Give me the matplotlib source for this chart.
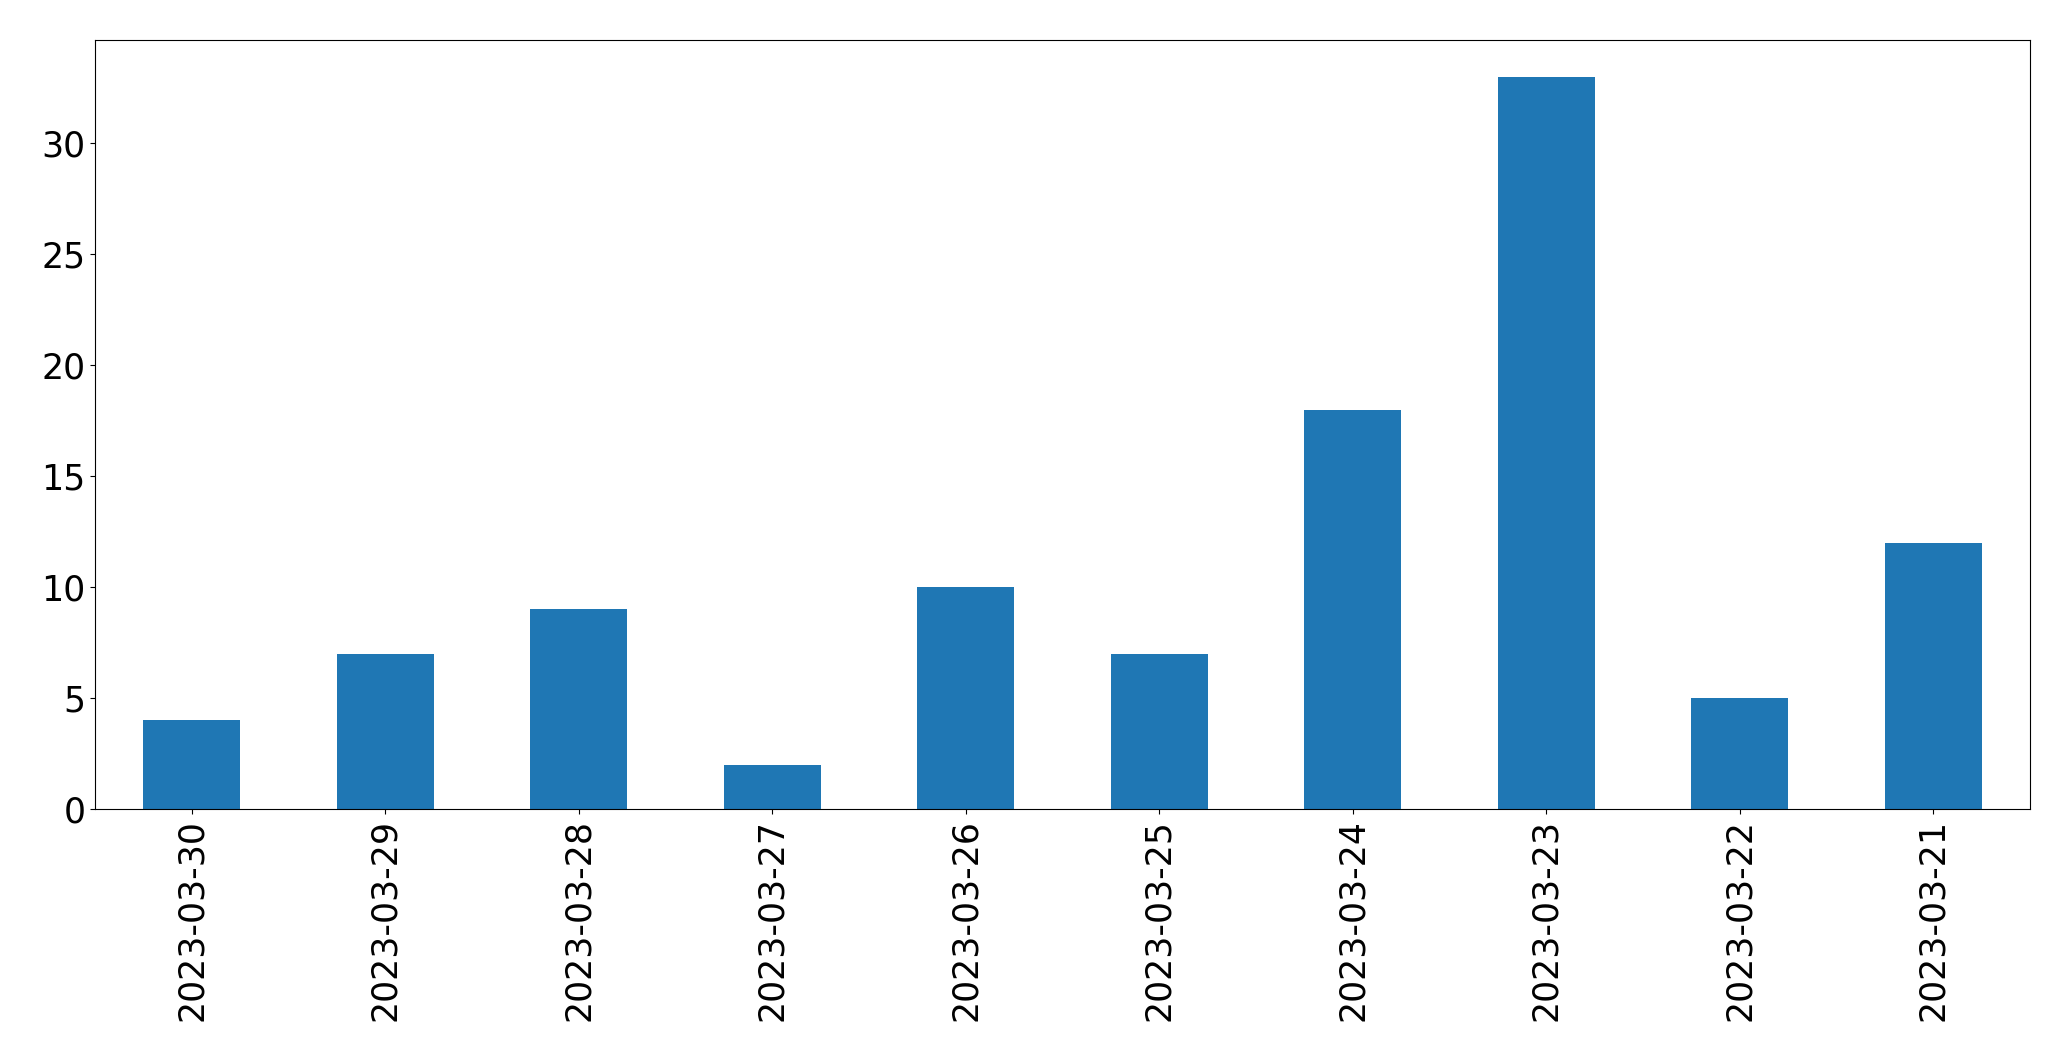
import matplotlib
matplotlib.use("Agg")
import matplotlib.pyplot as plt
import pandas as pd

dates = ["2023-03-30", "2023-03-29", "2023-03-28", "2023-03-27", "2023-03-26",
         "2023-03-25", "2023-03-24", "2023-03-23", "2023-03-22", "2023-03-21"]
counts = [4, 7, 9, 2, 10, 7, 18, 33, 5, 12]

s = pd.Series(counts, index=dates)

fig = plt.figure(figsize=(20.71, 10.61), dpi=100)
ax = fig.add_axes([95 / 2071, 1 - 809 / 1061, (2030 - 95) / 2071, (809 - 40) / 1061])
s.plot(kind="bar", ax=ax, color="#1f77b4", fontsize=25)
ax.tick_params(axis="x", labelrotation=90)

fig.savefig("out.png", dpi=100)
